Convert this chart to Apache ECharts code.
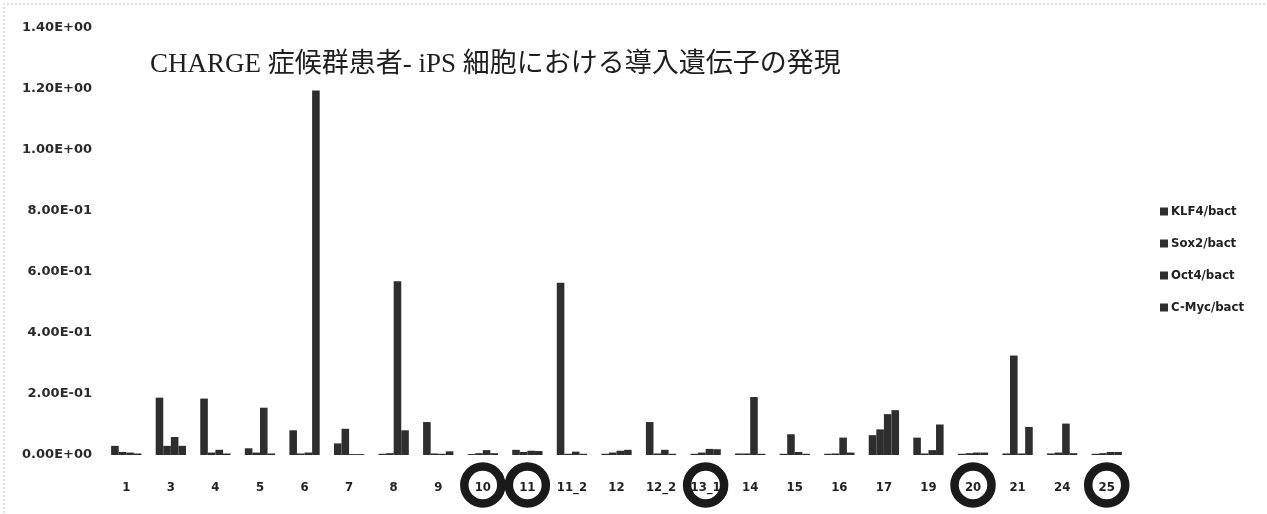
<!DOCTYPE html>
<html>
<head>
<meta charset="utf-8">
<script src="https://cdn.jsdelivr.net/npm/echarts@6/dist/echarts.min.js"></script>
<style>
  html, body { margin: 0; padding: 0; background: #fff; }
  #chart { width: 1267px; height: 514px; }
</style>
</head>
<body>
<div id="chart"></div>
<script>
// Cell lines (x categories)
const categories = ['1', '3', '4', '5', '6', '7', '8', '9', '10', '11', '11_2', '12', '12_2', '13_1', '14', '15', '16', '17', '19', '20', '21', '24', '25'];

// Transgene expression relative to beta-actin
const klf4 = [0.030, 0.188, 0.185, 0.022, 0.081, 0.038, 0.004, 0.108, 0.003, 0.017, 0.565, 0.004, 0.108, 0.004, 0.005, 0.004, 0.004, 0.065, 0.057, 0.004, 0.005, 0.005, 0.004];
const sox2 = [0.010, 0.030, 0.008, 0.008, 0.005, 0.086, 0.006, 0.005, 0.006, 0.010, 0.004, 0.008, 0.005, 0.008, 0.005, 0.068, 0.005, 0.084, 0.005, 0.006, 0.326, 0.008, 0.006];
const oct4 = [0.008, 0.059, 0.017, 0.155, 0.008, 0.003, 0.570, 0.004, 0.016, 0.014, 0.011, 0.014, 0.017, 0.020, 0.190, 0.010, 0.057, 0.134, 0.016, 0.008, 0.005, 0.103, 0.010];
const cmyc = [0.005, 0.030, 0.005, 0.005, 1.195, 0.003, 0.081, 0.012, 0.006, 0.013, 0.004, 0.017, 0.004, 0.019, 0.004, 0.004, 0.008, 0.147, 0.100, 0.008, 0.092, 0.006, 0.010];

const seriesNames = ['KLF4/bact', 'Sox2/bact', 'Oct4/bact', 'C-Myc/bact'];

// Lines highlighted with a ring under their label
const circled = ['10', '11', '13_1', '20', '25'];

const titleText = 'CHARGE 症候群患者- iPS 細胞における導入遺伝子の発現';

const ink = '#2e2e2e';
const labelFont = "'DejaVu Sans', sans-serif";
const narrowFont = "'DejaVu Sans Condensed', 'DejaVu Sans', sans-serif";

function sci(v) {
  if (Math.abs(v) < 1e-12) return '0.00E+00';
  const e = Math.floor(Math.log10(v) + 1e-9);
  const m = v / Math.pow(10, e);
  return m.toFixed(2) + 'E' + (e < 0 ? '-' : '+') + String(Math.abs(e)).padStart(2, '0');
}

const chart = echarts.init(document.getElementById('chart'), null, { renderer: 'canvas' });

const values = [klf4, sox2, oct4, cmyc];

chart.setOption({
  animation: false,
  backgroundColor: '#ffffff',
  title: {
    text: titleText,
    left: 145,
    top: 46,
    textStyle: {
      fontFamily: "'Liberation Serif', 'Noto Sans CJK JP', serif",
      fontWeight: 'normal',
      fontSize: 27,
      color: '#1e1e1e'
    }
  },
  legend: {
    orient: 'vertical',
    left: 1155,
    top: 200,
    itemWidth: 8,
    itemHeight: 8,
    itemGap: 19,
    icon: 'rect',
    data: seriesNames,
    textStyle: { fontFamily: narrowFont, fontWeight: 'bold', fontSize: 13, color: '#222', padding: [0, 0, 0, -2] }
  },
  grid: { left: 104, right: 138, top: 28, bottom: 59 },
  xAxis: {
    type: 'category',
    data: categories,
    axisLine: { show: false },
    axisTick: { show: false },
    axisLabel: {
      margin: 26,
      fontFamily: narrowFont,
      fontSize: 13,
      fontWeight: 'bold',
      color: '#222',
      interval: 0
    }
  },
  yAxis: {
    type: 'value',
    min: 0,
    max: 1.4,
    interval: 0.2,
    axisLine: { show: false },
    axisTick: { show: false },
    splitLine: { show: false },
    axisLabel: {
      margin: 12,
      fontFamily: labelFont,
      fontSize: 13,
      fontWeight: 'bold',
      color: '#2a2a2a',
      formatter: sci
    }
  },
  series: seriesNames.map((name, i) => ({
    name: name,
    type: 'bar',
    data: values[i],
    barGap: '0%',
    barCategoryGap: '32%',
    itemStyle: { color: ink }
  }))
});

// Rings around the highlighted x labels, placed from the category scale
function drawRings() {
  const y0 = chart.convertToPixel({ yAxisIndex: 0 }, 0);
  const elements = circled.map(c => {
    const x = chart.convertToPixel({ xAxisIndex: 0 }, c);
    return {
      type: 'circle',
      shape: { cx: x, cy: y0 + 30, r: 18.5 },
      style: { fill: 'none', stroke: '#1a1a1a', lineWidth: 8.5 },
      z: 10
    };
  });
  // faint frame along the top and left edges
  elements.push({
    type: 'polyline',
    shape: { points: [[4, 513], [4, 4], [1266, 4]] },
    style: { stroke: '#bdbdbd', lineWidth: 1, lineDash: [2, 2], fill: 'none' },
    z: 1
  });
  chart.setOption({ graphic: { elements: elements } });
}
drawRings();
</script>
</body>
</html>
